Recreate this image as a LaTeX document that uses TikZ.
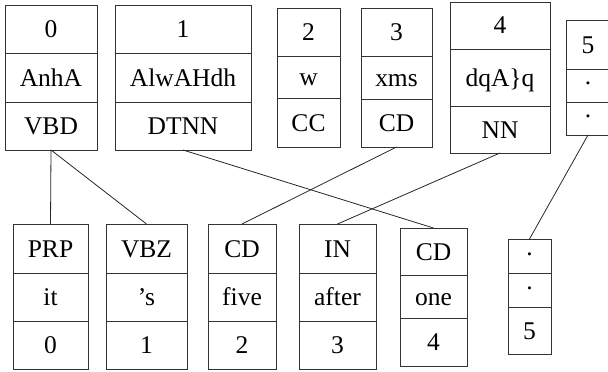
\documentclass[tikz,border=0pt]{standalone}
\usepackage{fontspec}
\setmainfont{Liberation Serif}
\usepackage{tikz}

% one record: outline, two dividers, centres of the three cells
\newcommand{\tokbox}[7]{%
	\draw[box] (#2,#4) rectangle (#3,#7)
	(#2,#5) -- (#3,#5)
	(#2,#6) -- (#3,#6);
	\coordinate (#1-1) at ({(#2+#3)/2},{(#4+#5)/2});
	\coordinate (#1-2) at ({(#2+#3)/2},{(#5+#6)/2});
	\coordinate (#1-3) at ({(#2+#3)/2},{(#6+#7)/2});
	\coordinate (#1-n) at ({(#2+#3)/2},#4);
	\coordinate (#1-s) at ({(#2+#3)/2},#7);
}
\newcommand{\tokcells}[4]{%
	\node[cell] (#1-a) at (#1-1) {#2};
	\node[cell] (#1-b) at (#1-2) {#3};
	\node[cell] (#1-c) at (#1-3) {#4};
}
% full stop sitting in the middle of its cell
\newcommand{\stopmark}{\raisebox{9.5pt}{.}}

\tikzset{
	box/.style={line width=0.8pt, draw=black!80},
	cell/.style={inner sep=0pt, text height=17pt, text depth=0pt,
		font=\fontsize{25.5}{30}\selectfont},
	link/.style={line width=0.8pt, draw=black!85}
}

\begin{document}
\begin{tikzpicture}[x=1pt,y=-1pt]
			\useasboundingbox (0,0) rectangle (608,372);
			% source tokens
			\tokbox{t0}{5}{97}{5}{53}{102}{150}
			\tokcells{t0}{0}{AnhA}{VBD}
			\tokbox{t1}{115}{251}{5}{53}{102}{150}
			\tokcells{t1}{1}{AlwAHdh}{DTNN}
			\tokbox{t2}{277}{340}{8}{56}{98}{147}
			\tokcells{t2}{2}{w}{CC}
			\tokbox{t3}{361}{432}{8}{56}{99}{147}
			\tokcells{t3}{3}{xms}{CD}
			\tokbox{t4}{450}{550}{2}{49}{106}{153}
			\tokcells{t4}{4}{dqA\}q}{NN}
			\tokbox{t5}{566}{610}{20}{69}{102}{135}
			\tokcells{t5}{5}{\stopmark}{\stopmark}
			% target tokens
			\tokbox{b0}{13}{88}{224}{273}{321}{369}
			\tokcells{b0}{PRP}{it}{0}
			\tokbox{b1}{106}{187}{224}{273}{321}{369}
			\tokcells{b1}{VBZ}{'s}{1}
			\tokbox{b2}{208}{276}{224}{273}{321}{369}
			\tokcells{b2}{CD}{five}{2}
			\tokbox{b3}{299}{376}{224}{273}{321}{369}
			\tokcells{b3}{IN}{after}{3}
			\tokbox{b4}{400}{467}{228}{275}{318}{366}
			\tokcells{b4}{CD}{one}{4}
			\tokbox{b5}{508}{551}{239}{273}{307}{354}
			\tokcells{b5}{\stopmark}{\stopmark}{5}
			% alignment links
			\draw[link] (t0-s) -- (b0-n);
			\draw[link] (t0-s) -- (b1-n);
			\draw[link] (t1-s) -- (b4-n);
			\draw[link] (t3-s) -- (b2-n);
			\draw[link] (t4-s) -- (b3-n);
			\draw[link] (t5-s) -- (b5-n);
			\end{tikzpicture}
\end{document}
